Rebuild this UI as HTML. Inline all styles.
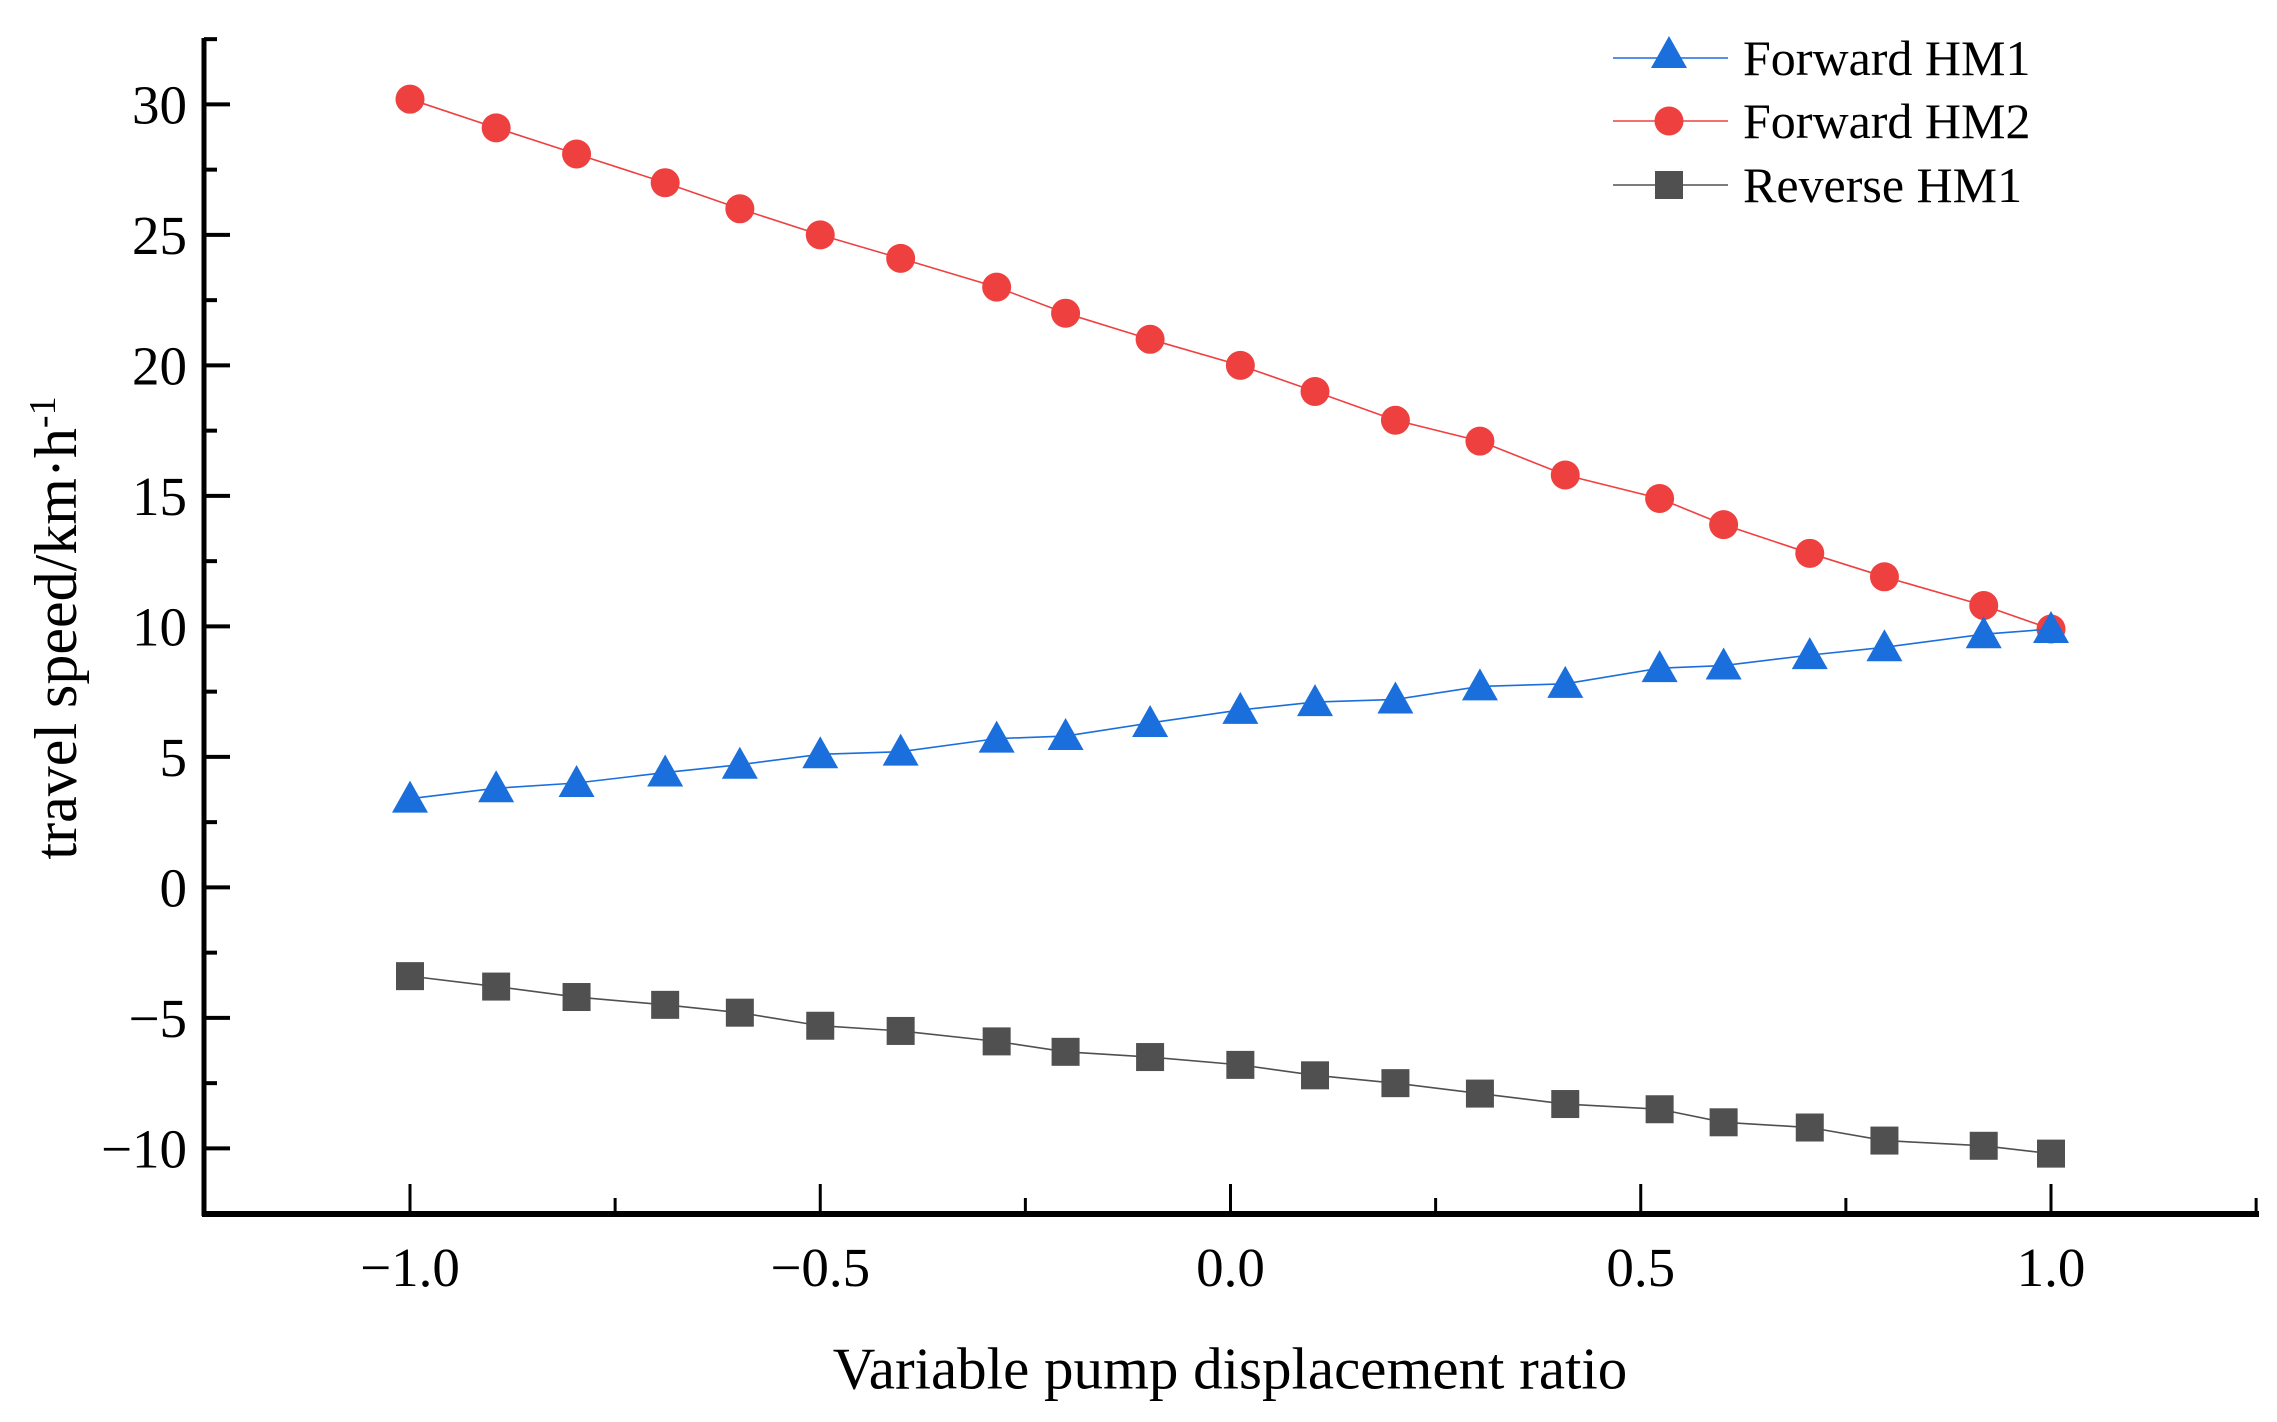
<!DOCTYPE html>
<html><head><meta charset="utf-8"><style>
html,body{margin:0;padding:0;background:#fff;}
svg{display:block;font-family:"Liberation Serif",serif;}
</style></head><body>
<svg id="chart" width="2277" height="1422" viewBox="0 0 2277 1422"></svg>
<script>
const xValues=[-1,-0.895,-0.797,-0.689,-0.598,-0.5,-0.402,-0.285,-0.201,-0.098,0.012,0.103,0.201,0.304,0.408,0.523,0.601,0.706,0.797,0.918,1.0];
const hm2Values=[30.2,29.1,28.1,27.0,26.0,25.0,24.1,23.0,22.0,21.0,20.0,19.0,17.9,17.1,15.8,14.9,13.9,12.8,11.9,10.8,9.9];
const hm1Values=[3.4,3.8,4.0,4.4,4.7,5.1,5.2,5.7,5.8,6.3,6.8,7.1,7.2,7.7,7.8,8.4,8.5,8.9,9.2,9.7,9.9];
const revValues=[-3.4,-3.8,-4.2,-4.5,-4.8,-5.3,-5.5,-5.9,-6.3,-6.5,-6.8,-7.2,-7.5,-7.9,-8.3,-8.5,-9.0,-9.2,-9.7,-9.9,-10.2];
const yTicks=[-10,-5,0,5,10,15,20,25,30];
const yTickLabels=["\u221210","\u22125","0","5","10","15","20","25","30"];
const xTicks=[-1,-0.5,0,0.5,1];
const xTickLabels=["\u22121.0","\u22120.5","0.0","0.5","1.0"];

const NS="http://www.w3.org/2000/svg";
const svg=document.getElementById('chart');
const X=v=>1230.5+v*820.5;
const Y=v=>887.4-v*26.1;
function el(tag,attrs,parent){const e=document.createElementNS(NS,tag);for(const k in attrs)e.setAttribute(k,attrs[k]);(parent||svg).appendChild(e);return e;}

const axL=el('line',{x1:204,y1:38,x2:204,y2:1216,stroke:'#000','stroke-width':5});


const axB=el('line',{x1:202,y1:1214,x2:2259,y2:1214,stroke:'#000','stroke-width':6});



for(let v=-12.5;v<=32.5;v+=2.5){
  const major=Math.abs(v%5)<1e-9;
  const t=el('line',{x1:204,y1:Y(v),x2:204+(major?26:13),y2:Y(v),stroke:'#000','stroke-width':4});
  
  
}
yTicks.forEach((v,i)=>{
  const t=el('text',{x:187,y:Y(v)+19,'text-anchor':'end','font-size':55});
  t.textContent=yTickLabels[i];
  
  
});
for(let v=-1.25;v<=1.2501;v+=0.25){
  const major=Math.abs((v*2)%1)<1e-9;
  const t=el('line',{x1:X(v),y1:1214,x2:X(v),y2:1214-(major?30:16),stroke:'#000','stroke-width':3});
  
  
}
xTicks.forEach((v,i)=>{
  const t=el('text',{x:X(v),y:1286,'text-anchor':'middle','font-size':55});
  t.textContent=xTickLabels[i];
  
  
});

function series(vals,color,shape,name){
  const g=el('g',{});
  
  
  const pts=vals.map((v,i)=>X(xValues[i])+','+Y(v)).join(' ');
  el('polyline',{points:pts,fill:'none',stroke:color,'stroke-width':1.6},g);
  vals.forEach((v,i)=>{const m=marker(X(xValues[i]),Y(v),color,shape,g);
    
    });
}
function marker(cx,cy,color,shape,g){
  if(shape==='circle')return el('circle',{cx:cx,cy:cy,r:14.5,fill:color},g);
  if(shape==='square')return el('rect',{x:cx-14,y:cy-14,width:28,height:28,fill:color},g);
  return el('polygon',{points:`${cx},${cy-18} ${cx+18},${cy+14} ${cx-18},${cy+14}`,fill:color},g);
}
series(hm2Values,'#ef4040','circle','forward-hm2-series');
series(revValues,'#505050','square','reverse-hm1-series');
series(hm1Values,'#1a6fdc','triangle','forward-hm1-series');

const legend=[['Forward HM1','#1a6fdc','triangle',58],['Forward HM2','#ef4040','circle',121],['Reverse HM1','#505050','square',185]];
legend.forEach(([label,color,shape,y])=>{
  const g=el('g',{});
  
  
  el('line',{x1:1613,y1:y,x2:1728,y2:y,stroke:color,'stroke-width':1.6},g);
  marker(1669,shape==='triangle'?y-4:y,color,shape,g);
  const t=el('text',{x:1743,y:y+17,'font-size':50},g);
  t.textContent=label;
});
</script>
<div style="position:absolute;left:0;top:0;width:2277px;height:1422px;pointer-events:none;">
  <div style="position:absolute;left:56px;top:628px;transform:translate(-50%,-50%) rotate(-90deg);white-space:nowrap;font-family:'Liberation Serif',serif;font-size:60px;">travel speed/km·h<sup style="font-size:38px;">-1</sup></div>
  <div style="position:absolute;left:1230px;top:1369px;transform:translate(-50%,-50%);white-space:nowrap;font-family:'Liberation Serif',serif;font-size:59px;">Variable pump displacement ratio</div>
</div>
</body></html>
